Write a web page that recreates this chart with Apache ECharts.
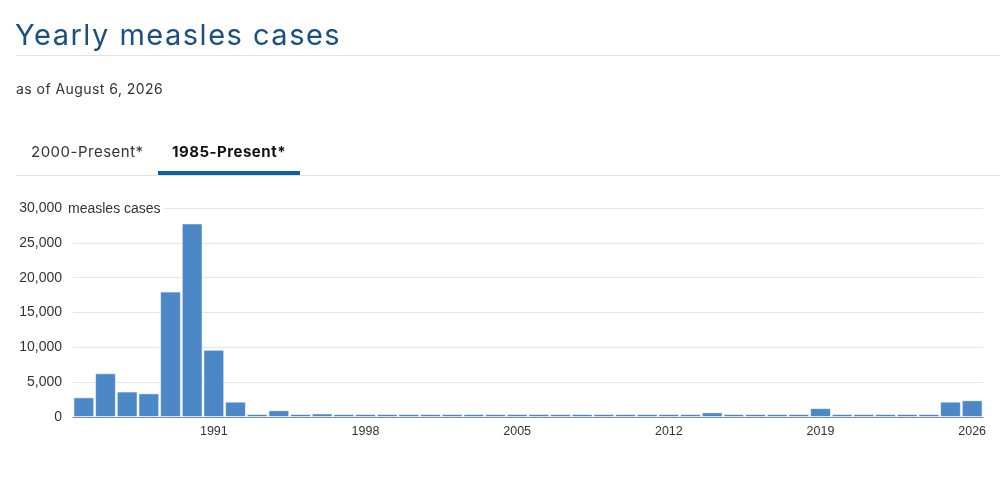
<!DOCTYPE html>
<html>
<head>
<meta charset="utf-8">
<script src="https://cdn.jsdelivr.net/npm/echarts@6/dist/echarts.min.js"></script>
<style>
  html, body { margin: 0; padding: 0; background: #fff; }
  #wrap { position: relative; width: 1000px; height: 498px; overflow: hidden; font-family: Inter, "Noto Sans", sans-serif; }
  #chart { position: absolute; left: 0; top: 0; width: 1000px; height: 498px; }
  .title { position: absolute; left: 15px; top: 17px; font-size: 29px; color: #1b4f82; font-weight: 400; white-space: nowrap; letter-spacing: 1.5px; }
  .rule1 { position: absolute; left: 16px; right: 0; top: 55px; height: 1px; background: #e3e3e3; }
  .asof { position: absolute; left: 16px; top: 80px; font-size: 14px; color: #333; white-space: nowrap; letter-spacing: 0.45px; }
  .tab { position: absolute; top: 142px; font-size: 15px; color: #333; white-space: nowrap; letter-spacing: 0.5px; }
  .tab1 { left: 31px; }
  .tab2 { left: 172px; font-weight: 700; color: #111; }
  .uline { position: absolute; left: 158px; width: 142px; top: 171px; height: 4px; background: #0b5ea8; }
  .rule2 { position: absolute; left: 16px; right: 0; top: 175px; height: 1px; background: #e3e3e3; }
</style>
</head>
<body>
<div id="wrap">
  <div id="chart"></div>
  <div class="title">Yearly measles cases</div>
  <div class="rule1"></div>
  <div class="asof">as of August 6, 2026</div>
  <div class="tab tab1">2000-Present*</div>
  <div class="tab tab2">1985-Present*</div>
  <div class="rule2"></div>
  <div class="uline"></div>
</div>
<script>
const years = ['1985','1986','1987','1988','1989','1990','1991','1992','1993','1994',
  '1995','1996','1997','1998','1999','2000','2001','2002','2003','2004',
  '2005','2006','2007','2008','2009','2010','2011','2012','2013','2014',
  '2015','2016','2017','2018','2019','2020','2021','2022','2023','2024',
  '2025','2026'];
const cases = [2822, 6282, 3655, 3396, 18000, 27786, 9643, 2200, 312, 963,
  309, 508, 138, 100, 100, 86, 116, 44, 56, 37,
  66, 55, 43, 140, 71, 63, 220, 55, 187, 667,
  188, 86, 120, 375, 1274, 13, 49, 121, 59, 285,
  2200, 2400];
const yTicks = [0, 5000, 10000, 15000, 20000, 25000, 30000];
const yUnit = 'measles cases';

const chart = echarts.init(document.getElementById('chart'));
const showIdx = (i) => (i - 6) % 7 === 0;
chart.setOption({
  animation: false,
  grid: { left: 73, right: 17, top: 208, bottom: 81, containLabel: false },
  xAxis: {
    type: 'category',
    data: years,
    boundaryGap: true,
    axisLine: { lineStyle: { color: '#888', width: 1 } },
    axisTick: { alignWithLabel: true, interval: showIdx, length: 6, lineStyle: { color: '#666' } },
    axisLabel: { interval: showIdx, color: '#333', fontSize: 12.5, margin: 8, fontFamily: 'Liberation Sans' }
  },
  yAxis: {
    type: 'value',
    min: yTicks[0],
    max: yTicks[yTicks.length - 1],
    interval: yTicks[1] - yTicks[0],
    name: yUnit,
    nameLocation: 'end',
    nameGap: -1,
    nameTextStyle: {
      color: '#333', fontSize: 14, fontFamily: 'Liberation Sans',
      align: 'left', verticalAlign: 'middle',
      backgroundColor: '#fff', padding: [2, 4, 2, -5]
    },
    axisLine: { show: false },
    axisTick: { show: false },
    splitLine: { lineStyle: { color: '#e6e6e6', width: 1 } },
    axisLabel: {
      color: '#333', fontSize: 14, margin: 11, fontFamily: 'Liberation Sans', align: 'right',
      formatter: function (v) { return v.toLocaleString('en-US'); }
    }
  },
  series: [{
    type: 'bar',
    data: cases,
    barCategoryGap: '4%',
    barMinHeight: 3,
    itemStyle: { color: '#4c87c8', borderColor: 'rgba(255,255,255,0.55)', borderWidth: 1 }
  }]
});
</script>
</body>
</html>
